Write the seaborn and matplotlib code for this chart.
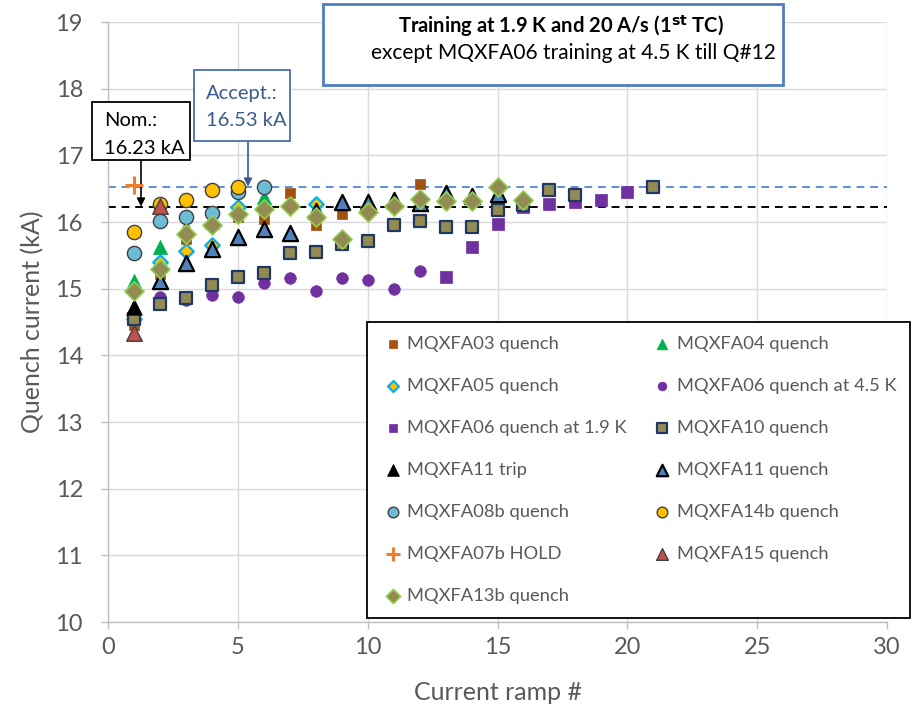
import matplotlib
matplotlib.use("Agg")
import matplotlib.pyplot as plt
import seaborn as sns
from matplotlib.patches import Rectangle

sns.set_theme(style="whitegrid")
plt.rcParams['font.family'] = ['Lato', 'DejaVu Sans']

# ---------------- data ----------------
ramp_03 = [1, 2, 3, 5, 6, 7, 8, 9, 12]
iq_03 = [14.45, 15.22, 15.75, 16.07, 16.04, 16.44, 15.95, 16.12, 16.57]
ramp_04 = [1, 2, 3, 4, 5, 6]
iq_04 = [15.12, 15.62, 15.92, 16.00, 16.20, 16.37]
ramp_05 = [1, 2, 3, 4, 5, 8]
iq_05 = [14.55, 15.40, 15.57, 15.65, 16.22, 16.27]
ramp_06w = [2, 3, 4, 5, 6, 7, 8, 9, 10, 11, 12]
iq_06w = [14.88, 14.83, 14.90, 14.88, 15.09, 15.16, 14.97, 15.16, 15.13, 14.99, 15.26]
ramp_06c = [13, 14, 15, 16, 17, 18, 19, 20]
iq_06c = [15.17, 15.63, 15.97, 16.22, 16.27, 16.30, 16.33, 16.45]
ramp_10 = [1, 2, 3, 4, 5, 6, 7, 8, 9, 10, 11, 12, 13, 14, 15, 16, 17, 18, 21]
iq_10 = [14.55, 14.77, 14.86, 15.05, 15.17, 15.23, 15.53, 15.55, 15.67, 15.72,
         15.95, 16.02, 15.92, 15.92, 16.18, 16.25, 16.48, 16.40, 16.52]
ramp_11t = [1]
iq_11t = [14.72]
ramp_11q = [2, 3, 4, 5, 6, 7, 8, 9, 10, 11, 12, 13, 14, 15]
iq_11q = [15.12, 15.38, 15.60, 15.77, 15.90, 15.84, 16.17, 16.30, 16.30, 16.33,
          16.28, 16.44, 16.39, 16.42]
ramp_08b = [1, 2, 3, 4, 5, 6]
iq_08b = [15.53, 16.02, 16.07, 16.14, 16.45, 16.52]
ramp_14b = [1, 2, 3, 4, 5]
iq_14b = [15.85, 16.27, 16.33, 16.48, 16.52]
ramp_07b = [1]
iq_07b = [16.55]
ramp_15 = [1, 2]
iq_15 = [14.33, 16.24]
ramp_13b = [1, 2, 3, 4, 5, 6, 7, 8, 9, 10, 11, 12, 13, 14, 15, 16]
iq_13b = [14.97, 15.30, 15.82, 15.95, 16.12, 16.19, 16.24, 16.07, 15.75, 16.15,
          16.24, 16.35, 16.32, 16.32, 16.52, 16.33]

nominal = 16.23
accept = 16.53

labels = ["MQXFA03 quench", "MQXFA04 quench", "MQXFA05 quench",
          "MQXFA06 quench at 4.5 K", "MQXFA06 quench at 1.9 K", "MQXFA10 quench",
          "MQXFA11 trip", "MQXFA11 quench", "MQXFA08b quench", "MQXFA14b quench",
          "MQXFA07b HOLD", "MQXFA15 quench", "MQXFA13b quench"]

# ---------------- figure ----------------
W, H = 913, 721
fig = plt.figure(figsize=(W / 100, H / 100), dpi=100)


def fx(x):
    return x / W


def fy(y):
    return 1 - y / H


ax = fig.add_axes([fx(108), fy(622), fx(887) - fx(108), fy(22) - fy(622)])

series = [
    (ramp_03, iq_03, dict(marker='s', s=62, color='#A5500F', edgecolor='#A5500F', linewidth=0.5)),
    (ramp_04, iq_04, dict(marker='^', s=105, color='#00B050', edgecolor='#00B050', linewidth=0.5)),
    (ramp_05, iq_05, dict(marker='D', s=55, color='#FFC000', edgecolor='#00B0F0', linewidth=1.6)),
    (ramp_06w, iq_06w, dict(marker='o', s=70, color='#7030A0', edgecolor='#7030A0', linewidth=0.5)),
    (ramp_06c, iq_06c, dict(marker='s', s=68, color='#7030A0', edgecolor='#7030A0', linewidth=0.5)),
    (ramp_10, iq_10, dict(marker='s', s=78, color='#948A54', edgecolor='#1F3864', linewidth=1.6)),
    (ramp_11t, iq_11t, dict(marker='^', s=120, color='#000000', edgecolor='#000000', linewidth=0.8)),
    (ramp_11q, iq_11q, dict(marker='^', s=120, color='#4F81BD', edgecolor='#000000', linewidth=1.6)),
    (ramp_08b, iq_08b, dict(marker='o', s=105, color='#6BBCD4', edgecolor='#404040', linewidth=1.0)),
    (ramp_14b, iq_14b, dict(marker='o', s=105, color='#FFC000', edgecolor='#404040', linewidth=1.0)),
    (ramp_07b, iq_07b, dict(marker='+', s=170, color='#ED7D31', linewidth=2.2)),
    (ramp_15, iq_15, dict(marker='^', s=125, color='#C0504D', edgecolor='#404040', linewidth=1.0)),
    (ramp_13b, iq_13b, dict(marker='D', s=95, color='#948A54', edgecolor='#92D050', linewidth=1.2)),
]

for i, ((xs, ys, kw), lab) in enumerate(zip(series, labels)):
    sns.scatterplot(x=xs, y=ys, ax=ax, label=lab, zorder=3 + i, **kw)

ax.axhline(accept, color='#5B8FD8', linestyle=(0, (4, 3)), linewidth=1.4, zorder=2)
ax.axhline(nominal, color='#000000', linestyle=(0, (4, 3)), linewidth=1.4, zorder=2)

ax.set_xlim(0, 30)
ax.set_ylim(10, 19)
ax.set_xticks(range(0, 31, 5))
ax.set_yticks(range(10, 20))
ax.grid(True, color='#D9D9D9', linewidth=1.0)
ax.set_axisbelow(True)
for side in ['top', 'right']:
    ax.spines[side].set_visible(False)
for side in ['left', 'bottom']:
    ax.spines[side].set_color('#BFBFBF')
    ax.spines[side].set_linewidth(1.0)
ax.tick_params(axis='both', which='major', length=5, width=1, color='#BFBFBF',
               labelsize=17, labelcolor='#595959', direction='out')
ax.tick_params(axis='y', pad=13, left=True)
ax.tick_params(axis='x', pad=6, bottom=True)
ax.set_xlabel("Current ramp #", fontsize=18, color='#595959', labelpad=16)
ax.set_ylabel("Quench current (kA)", fontsize=18, color='#595959', labelpad=8)
ax.set_facecolor('white')

# legend: row-wise order in two columns
handles, labs = ax.get_legend_handles_labels()
order = [0, 2, 4, 6, 8, 10, 12, 1, 3, 5, 7, 9, 11]
leg = fig.legend([handles[i] for i in order], [labs[i] for i in order],
                 ncol=2, loc='upper left', mode='expand',
                 bbox_to_anchor=(fx(367), fy(322), fx(910) - fx(367), 0.0),
                 bbox_transform=fig.transFigure,
                 fontsize=13.2, labelcolor='#595959', frameon=True, fancybox=False,
                 edgecolor='#000000', framealpha=1, borderpad=0.75,
                 labelspacing=1.42, handletextpad=0.15, handlelength=1.3,
                 columnspacing=1.0, markerscale=0.75, borderaxespad=0)
leg.get_frame().set_linewidth(1.3)
if ax.get_legend():
    ax.get_legend().remove()

# title box
fig.add_artist(Rectangle((fx(323), fy(85)), fx(783) - fx(323), fy(4) - fy(85),
                         transform=fig.transFigure, facecolor='white',
                         edgecolor='#4F7EC0', linewidth=2.0, zorder=10))
fig.text(fx(561), fy(26), r"Training at 1.9 K and 20 A/s (1$^{\mathbf{st}}$ TC)",
         fontsize=14.5, fontweight='bold', ha='center', va='center', color='black', zorder=11)
fig.text(fx(573), fy(53), "except MQXFA06 training at 4.5 K till Q#12",
         fontsize=15, ha='center', va='center', color='black', zorder=11)

# Nominal box
fig.add_artist(Rectangle((fx(92), fy(160)), fx(190) - fx(92), fy(102) - fy(160),
                         transform=fig.transFigure, facecolor='white',
                         edgecolor='black', linewidth=1.3, zorder=10))
fig.text(fx(104), fy(121), "Nom.:", fontsize=14.5, ha='left', va='center', color='black', zorder=11)
fig.text(fx(104), fy(149), "16.23 kA", fontsize=14.5, ha='left', va='center', color='black', zorder=11)
ax.annotate("", xy=((141 - 108) / (887 - 108) * 30, nominal),
            xytext=(fx(141), fy(160)), textcoords='figure fraction',
            arrowprops=dict(arrowstyle='-|>', color='black', lw=1.2, shrinkA=0, shrinkB=0,
                            mutation_scale=12), zorder=12)

# Accept box
fig.add_artist(Rectangle((fx(194), fy(141)), fx(290) - fx(194), fy(70) - fy(141),
                         transform=fig.transFigure, facecolor='white',
                         edgecolor='#4A6FA5', linewidth=1.3, zorder=10))
fig.text(fx(206), fy(93), "Accept.:", fontsize=14.5, ha='left', va='center', color='#3B5A8F', zorder=11)
fig.text(fx(206), fy(120), "16.53 kA", fontsize=14.5, ha='left', va='center', color='#3B5A8F', zorder=11)
ax.annotate("", xy=((248 - 108) / (887 - 108) * 30, accept),
            xytext=(fx(248), fy(141)), textcoords='figure fraction',
            arrowprops=dict(arrowstyle='-|>', color='#3B5A8F', lw=1.2, shrinkA=0, shrinkB=0,
                            mutation_scale=12), zorder=12)

fig.savefig("out.png", dpi=100, facecolor='white')
